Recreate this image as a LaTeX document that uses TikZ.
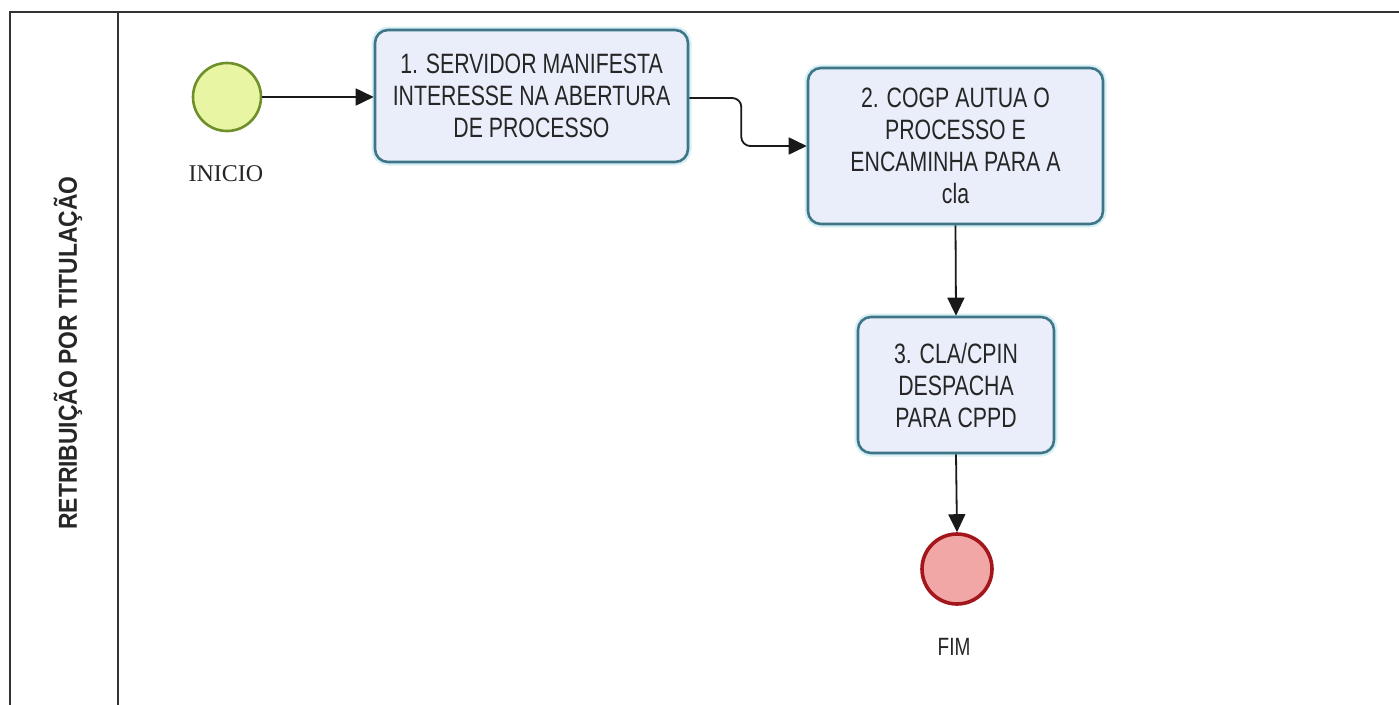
\documentclass[tikz,border=0pt]{standalone}
\usepackage{fontspec}
\setmainfont{Liberation Sans}
\newfontfamily\boxfont[FakeStretch=0.76]{Liberation Sans}
\newfontfamily\lanefont[FakeStretch=0.88]{Liberation Sans}
\newfontfamily\labfont{Liberation Serif}
\usetikzlibrary{arrows.meta,calc}
\definecolor{boxfill}{HTML}{E9EEFA}
\definecolor{boxline}{HTML}{3E7587}
\definecolor{boxglow}{HTML}{D6F0F5}
\definecolor{startfill}{HTML}{E8F5A3}
\definecolor{startline}{HTML}{6E8F2A}
\definecolor{endfill}{HTML}{F2A7A7}
\definecolor{endline}{HTML}{A3161B}
\definecolor{poolline}{HTML}{333333}
\tikzset{
  task/.style={draw=boxline, line width=2.6pt, fill=boxfill, rounded corners=13pt,
    preaction={draw=boxglow, line width=7pt},
    align=center, font=\boxfont\fontsize{28}{32}\selectfont, text=black!85, inner sep=4pt},
  startev/.style={circle, draw=startline, line width=2.6pt, fill=startfill, minimum size=68pt, inner sep=0pt},
  endev/.style={circle, draw=endline, line width=3.6pt, fill=endfill, minimum size=70pt, inner sep=0pt},
  flow/.style={line width=1.8pt, black!90, -{Triangle[length=18pt,width=17pt]}},
  pool/.style={draw=poolline, line width=2.5pt},
}
\begin{document}
\begin{tikzpicture}[x=1pt,y=-1pt]
\useasboundingbox (0,0) rectangle (1399,704);
% pool and lane
\draw[pool] (1402,12) -- (10,12) -- (10,707);
\draw[pool] (118,12) -- (118,707);
\node[rotate=90, font=\lanefont\bfseries\fontsize{26}{30}\selectfont, text=black!85] (lane) at (68,353) {RETRIBUIÇÃO POR TITULAÇÃO};
% events and tasks
\node[startev] (start) at (227,97) {};
\node[font=\labfont\fontsize{24}{28}\selectfont, text=black!85] (startlab) at (226,174) {INICIO};
\node[task, minimum width=313pt, minimum height=132pt] (t1) at (531.5,96)
  {1. SERVIDOR MANIFESTA\\INTERESSE NA ABERTURA\\DE PROCESSO};
\node[task, minimum width=295pt, minimum height=156pt] (t2) at (955.5,146)
  {2. COGP AUTUA O\\PROCESSO E\\ENCAMINHA PARA A\\cla};
\node[task, minimum width=196pt, minimum height=136pt] (t3) at (956,385)
  {3. CLA/CPIN\\DESPACHA\\PARA CPPD};
\node[endev] (end) at (957,569) {};
\node[font=\boxfont\fontsize{25}{28}\selectfont, text=black!85] (endlab) at (954,647) {FIM};
% flows
\draw[flow] (start.east) -- (t1.west |- start.east);
\draw[flow, rounded corners=9pt] (t1.east |- 0,98) -- ++(52,0) |- (t2.west);
\draw[flow] (t2.south) -- (t3.north);
\draw[flow] (t3.south) -- (end.north);
\end{tikzpicture}
\end{document}
